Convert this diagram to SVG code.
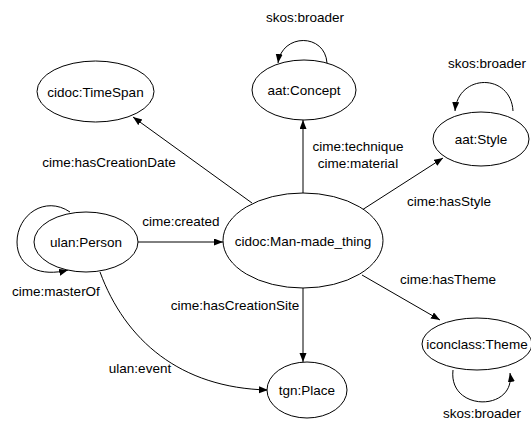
<svg xmlns="http://www.w3.org/2000/svg" width="531" height="421" viewBox="0 0 531 421">
<defs>
<marker id="ah" markerUnits="userSpaceOnUse" markerWidth="10" markerHeight="8" refX="9" refY="3.5" orient="auto">
<path d="M0,0 L9,3.5 L0,7 z" fill="#000"/>
</marker>
<style>
.n ellipse{fill:#fff;stroke:#000;stroke-width:1}
text{font-family:"Liberation Sans",Arial,sans-serif;font-size:13.5px;fill:#000;text-anchor:middle}
.e path{fill:none;stroke:#000;stroke-width:1;marker-end:url(#ah)}
</style>
</defs>
<rect width="531" height="421" fill="#fff"/>
<g id="connectors" class="e">
<path d="M138,242 L223,242"/>
<path d="M252,203 L133,117"/>
<path d="M303,193 L303,120"/>
<path d="M362,210 L443,158"/>
<path d="M362,275 L440,320"/>
<path d="M303,288 L303,362"/>
<path d="M100,272 C125,340 180,388 268,390"/>
<path d="M327,63 C325,33 282,33 278,63"/>
<path d="M513,111 C511,73 458,73 455,111"/>
<path d="M453,370 C448,412 516,412 510,373"/>
<path d="M70,212 C45,195 17,215 17,242 C17,268 42,277 68,270"/>
</g>
<g id="labels">
<text x="109" y="167">cime:hasCreationDate</text>
<text x="358" y="151">cime:technique</text>
<text x="358" y="168">cime:material</text>
<text x="449" y="206">cime:hasStyle</text>
<text x="181" y="226">cime:created</text>
<text x="56" y="296">cime:masterOf</text>
<text x="235" y="310">cime:hasCreationSite</text>
<text x="448" y="284">cime:hasTheme</text>
<text x="140" y="373">ulan:event</text>
<text x="305" y="22">skos:broader</text>
<text x="487" y="68">skos:broader</text>
<text x="482" y="418">skos:broader</text>
</g>
<g id="timespan" class="n"><ellipse cx="95.5" cy="91.5" rx="58.5" ry="30.5"/><text x="95.5" y="96.5">cidoc:TimeSpan</text></g>
<g id="concept" class="n"><ellipse cx="304" cy="90" rx="52" ry="30"/><text x="304" y="95">aat:Concept</text></g>
<g id="style" class="n"><ellipse cx="481" cy="139" rx="48" ry="27"/><text x="481" y="144">aat:Style</text></g>
<g id="person" class="n"><ellipse cx="86" cy="242" rx="52" ry="30"/><text x="86" y="247">ulan:Person</text></g>
<g id="manmade" class="n"><ellipse cx="303" cy="240.5" rx="80" ry="47.5"/><text x="303" y="246">cidoc:Man-made_thing</text></g>
<g id="place" class="n"><ellipse cx="307" cy="390" rx="40" ry="28"/><text x="307" y="395">tgn:Place</text></g>
<g id="theme" class="n"><ellipse cx="477" cy="344" rx="55" ry="26"/><text x="477" y="349">iconclass:Theme</text></g>
</svg>
